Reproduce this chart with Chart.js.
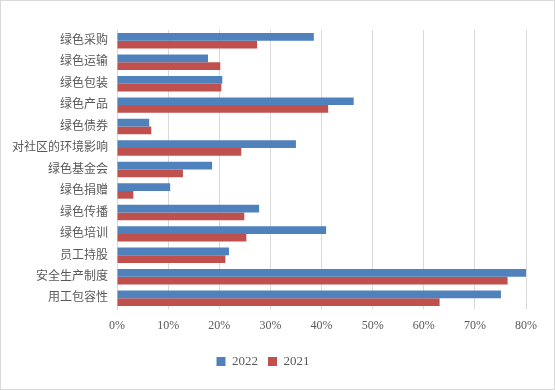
<!DOCTYPE html>
<html>
<head>
<meta charset="utf-8">
<script src="https://cdn.jsdelivr.net/npm/chart.js@4/dist/chart.umd.min.js"></script>
<style>
  body { margin: 0; background: #fff; }
  #wrap { width: 555px; height: 390px; position: relative; }
</style>
</head>
<body>
<div id="wrap"><canvas id="chart"></canvas></div>
<script>
const categories = ['绿色采购', '绿色运输', '绿色包装', '绿色产品', '绿色债券', '对社区的环境影响',
  '绿色基金会', '绿色捐赠', '绿色传播', '绿色培训', '员工持股', '安全生产制度', '用工包容性'];
const values2022 = [0.385, 0.178, 0.206, 0.463, 0.063, 0.350, 0.186, 0.104, 0.278, 0.409, 0.219, 0.800, 0.751];
const values2021 = [0.274, 0.202, 0.204, 0.413, 0.067, 0.243, 0.129, 0.032, 0.249, 0.253, 0.212, 0.764, 0.631];
const xTicks = [0, 0.1, 0.2, 0.3, 0.4, 0.5, 0.6, 0.7, 0.8];

const frame = {
  id: 'frame',
  afterDraw(chart) {
    const c = chart.ctx;
    c.save();
    c.strokeStyle = '#d9d9d9';
    c.lineWidth = 1;
    c.strokeRect(0.5, 0.5, chart.width - 1, chart.height - 1);
    c.restore();
  }
};

new Chart(document.getElementById('chart').getContext('2d'), {
  type: 'bar',
  data: {
    labels: categories,
    datasets: [
      { label: '2022', data: values2022, backgroundColor: '#4f81bd' },
      { label: '2021', data: values2021, backgroundColor: '#c0504d' }
    ]
  },
  options: {
    indexAxis: 'y',
    responsive: true,
    maintainAspectRatio: false,
    animation: false,
    datasets: { bar: { categoryPercentage: 0.72, barPercentage: 1 } },
    layout: { padding: { top: 30, right: 29, bottom: 12, left: 0 } },
    scales: {
      x: {
        min: 0, max: 0.8,
        afterBuildTicks(scale) { scale.ticks = xTicks.map(v => ({ value: v })); },
        afterFit(scale) { scale.height = 36; },
        grid: { color: '#d9d9d9', drawTicks: false },
        border: { display: false },
        ticks: {
          padding: 10,
          color: '#595959',
          font: { family: 'Liberation Serif', size: 12 },
          callback: v => Math.round(v * 100) + '%'
        }
      },
      y: {
        afterFit(scale) { scale.width = 117; },
        grid: { display: false, drawTicks: false },
        border: { display: true, color: '#d9d9d9' },
        ticks: {
          padding: 9,
          color: '#595959',
          font: { family: '"Liberation Serif", "Noto Sans CJK SC"', size: 12 }
        }
      }
    },
    plugins: {
      legend: {
        position: 'bottom',
        labels: {
          boxWidth: 9, boxHeight: 9, padding: 10,
          color: '#595959',
          font: { family: 'Liberation Serif', size: 13 }
        }
      },
      tooltip: { enabled: false }
    }
  },
  plugins: [frame]
});
</script>
</body>
</html>
